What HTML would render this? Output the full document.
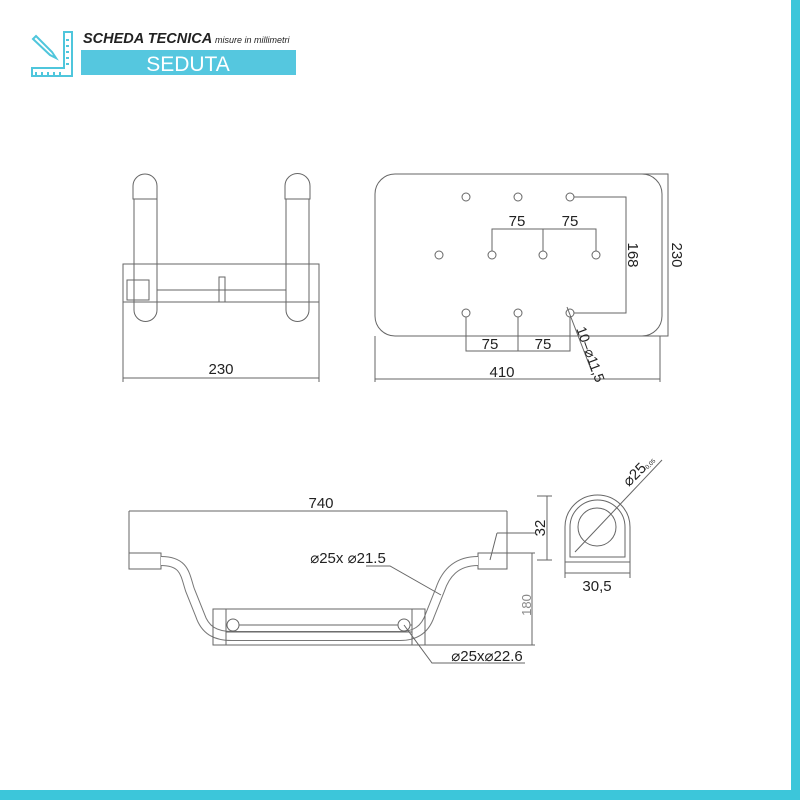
<!DOCTYPE html>
<html><head><style>body{margin:0;background:#fff}svg{display:block}</style></head><body>
<svg width="800" height="800" viewBox="0 0 800 800" xmlns="http://www.w3.org/2000/svg" font-family="Liberation Sans, sans-serif">
<rect x="0" y="0" width="800" height="800" fill="#fff"/>
<rect x="791" y="0" width="9" height="800" fill="#3cc6da"/>
<rect x="0" y="790" width="800" height="10" fill="#3cc6da"/>
<g stroke="#4fc6dc" stroke-width="2" fill="none">
<path d="M32 68 L32 76 L72 76 L72 32 L64 32 L64 68 Z"/>
<path d="M36 36 L52 52 L56 58 L50 55 L33 39 Z"/>
<path d="M36 72v3M42 72v3M48 72v3M54 72v3M60 72v3M66 40h3M66 46h3M66 52h3M66 58h3M66 64h3"/>
</g>
<text x="83" y="43" font-size="14.5" font-style="italic" font-weight="bold" fill="#222">SCHEDA TECNICA</text>
<text x="215" y="43" font-size="9" font-style="italic" fill="#222">misure in millimetri</text>
<rect x="81" y="50" width="215" height="25" fill="#55c7df"/>
<text x="188" y="71" font-size="21" fill="#fff" text-anchor="middle">SEDUTA</text>
<g stroke="#666" stroke-width="1" fill="none">
<path d="M133 186 a12 12 0 0 1 24 0 v13 h-24 Z"/>
<path d="M134 199 v111 a11.5 11.5 0 0 0 23 0 v-111"/>
<path d="M285 186 a12 12 0 0 1 25 0 v13 h-25 Z"/>
<path d="M286 199 v111 a11.5 11.5 0 0 0 23 0 v-111"/>
<rect x="123" y="264" width="196" height="38"/>
<line x1="157" y1="290" x2="286" y2="290"/>
<rect x="127" y="280" width="22" height="20"/>
<rect x="219" y="277" width="6" height="25"/>
<line x1="212" y1="302" x2="232" y2="302"/>
<line x1="123" y1="302" x2="123" y2="382"/>
<line x1="319" y1="302" x2="319" y2="382"/>
<line x1="123" y1="378" x2="319" y2="378"/>
<rect x="375" y="174" width="287" height="162" rx="20"/>
<g>
<circle cx="466" cy="197" r="4"/><circle cx="518" cy="197" r="4"/><circle cx="570" cy="197" r="4"/>
<circle cx="439" cy="255" r="4"/><circle cx="492" cy="255" r="4"/><circle cx="543" cy="255" r="4"/><circle cx="596" cy="255" r="4"/>
<circle cx="466" cy="313" r="4"/><circle cx="518" cy="313" r="4"/><circle cx="570" cy="313" r="4"/>
</g>
<path d="M492 251 V229 H596 V251 M543 229 V251"/>
<path d="M574 197 H626 V313 H574"/>
<path d="M466 317 V351 H570 V317 M518 317 V351"/>
<path d="M620 174 H668 V336 H620"/>
<line x1="375" y1="336" x2="375" y2="382"/>
<line x1="660" y1="336" x2="660" y2="382"/>
<line x1="375" y1="379" x2="660" y2="379"/>
<line x1="567" y1="307" x2="592" y2="372"/>
<line x1="129" y1="511" x2="507" y2="511"/>
<line x1="129" y1="511" x2="129" y2="553"/>
<line x1="507" y1="511" x2="507" y2="553"/>
<rect x="129" y="553" width="32" height="16"/>
<rect x="478" y="553" width="29" height="16"/>
</g>
<path d="M161 561 C185 561 185 575 190 590 L200 615 C205 630 215 636 232 636 L400 636 C415 636 425 630 430 615 L440 590 C445 575 455 561 478 561" fill="none" stroke="#777" stroke-width="10"/>
<path d="M161 561 C185 561 185 575 190 590 L200 615 C205 630 215 636 232 636 L400 636 C415 636 425 630 430 615 L440 590 C445 575 455 561 478 561" fill="none" stroke="#fff" stroke-width="8"/>
<g stroke="#666" stroke-width="1" fill="none">
<rect x="213" y="609" width="212" height="36"/>
<line x1="226" y1="609" x2="226" y2="645"/><line x1="412" y1="609" x2="412" y2="645"/>
<line x1="226" y1="625" x2="412" y2="625"/><line x1="226" y1="632" x2="412" y2="632"/>
<circle cx="233" cy="625" r="6" fill="#fff"/><circle cx="404" cy="625" r="6" fill="#fff"/>
<path d="M366 566 H390 L441 595"/>
<path d="M404 625 L432 663 H525"/>
<path d="M507 553 H535 M425 645 H535 M532 553 V645"/>
<path d="M497 533 L490 560 M497 533 H535 M537 496 H552 M537 560 H552 M547 496 V560"/>
<path d="M565 562 V527 a32.5 32 0 0 1 65 0 V562 Z"/>
<path d="M570 557 V527 a27.5 27 0 0 1 55 0 V557 Z"/>
<circle cx="597" cy="527" r="19"/>
<line x1="565" y1="562" x2="565" y2="578"/><line x1="630" y1="562" x2="630" y2="578"/>
<line x1="565" y1="573" x2="630" y2="573"/>
<line x1="575" y1="552" x2="662" y2="460"/>
</g>
<g font-size="15" fill="#222" text-anchor="middle">
<text x="221" y="374">230</text>
<text x="517" y="226">75</text><text x="570" y="226">75</text>
<text x="490" y="349">75</text><text x="543" y="349">75</text>
<text x="502" y="377">410</text>
<text transform="translate(628 255) rotate(90)">168</text>
<text transform="translate(672 255) rotate(90)">230</text>
<text transform="translate(586 356) rotate(70)" font-size="14">10–⌀11,5</text>
<text x="321" y="508">740</text>
<text x="348" y="563">⌀25x ⌀21.5</text>
<text x="487" y="661">⌀25x⌀22.6</text>
<text transform="translate(545 528) rotate(-90)">32</text>
<text x="597" y="591">30,5</text>
<text transform="translate(638 478) rotate(-45)">⌀25</text>
<text transform="translate(651 466) rotate(-45)" font-size="6">-0,05</text>
<text transform="translate(531 605) rotate(-90)" fill="#888" font-size="13">180</text>
</g>
</svg>
</body></html>
